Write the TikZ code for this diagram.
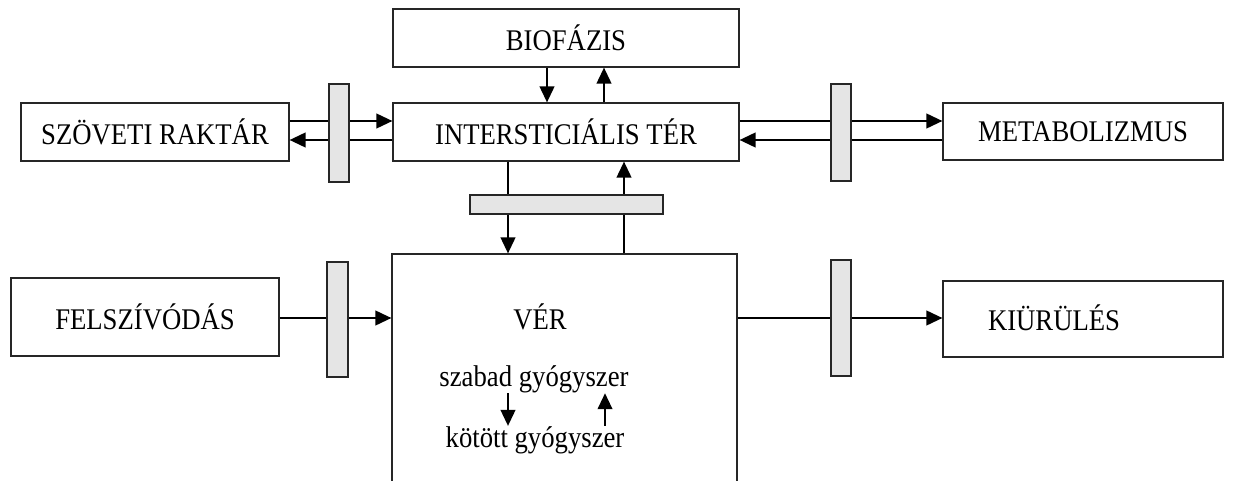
\documentclass[tikz,border=0pt]{standalone}
\usepackage{fontspec}
\setmainfont{Liberation Serif}[FakeStretch=0.89]
\usetikzlibrary{arrows.meta}
\begin{document}
\begin{tikzpicture}[x=0.75pt,y=-0.75pt,
  box/.style={draw=black!85,line width=0.9pt,fill=white,inner sep=0pt,font=\fontsize{22.5}{27}\selectfont},
  memb/.style={draw=black!85,line width=1.3pt,fill=black!10,inner sep=0pt},
  arr/.style={line width=1.5pt,-{Triangle[length=12pt,width=11pt]}},
  txt/.style={inner sep=0pt,font=\fontsize{22.5}{27}\selectfont}]
\useasboundingbox (0,0) rectangle (1237,481);
\clip (0,0) rectangle (1237,481);
% boxes
\node[box,minimum width=268*0.75pt,minimum height=58*0.75pt] (szov) at (155,132) {SZÖVETI RAKTÁR};
\node[box,minimum width=346*0.75pt,minimum height=58*0.75pt] (bio) at (566,38) {BIOFÁZIS};
\node[box,minimum width=346*0.75pt,minimum height=58*0.75pt] (inter) at (566,132) {INTERSTICIÁLIS TÉR};
\node[box,minimum width=280*0.75pt,minimum height=57*0.75pt] (metab) at (1083,131.5) {METABOLIZMUS};
\node[box,minimum width=268*0.75pt,minimum height=78*0.75pt] (felsz) at (145,317) {FELSZÍVÓDÁS};
\node[box,minimum width=280*0.75pt,minimum height=76*0.75pt] (kiur) at (1083,319) {};
\node[txt] (kiurt) at (1054,318) {KIÜRÜLÉS};
\node[box,minimum width=345*0.75pt,minimum height=236*0.75pt] (ver) at (564.5,372) {};
\node[txt] (vert) at (540,317) {VÉR};
\node[txt,anchor=base] (szabad) at (534,386.5) {szabad gyógyszer};
\node[txt,anchor=base] (kotott) at (535,447) {kötött gyógyszer};
% connectors
\draw[arr] (szov.east |- 0,121) -- (inter.west |- 0,121);
\draw[arr] (inter.west |- 0,140) -- (szov.east |- 0,140);
\draw[arr] (inter.east |- 0,121) -- (metab.west |- 0,121);
\draw[arr] (metab.west |- 0,140) -- (inter.east |- 0,140);
\draw[arr] (bio.south -| 547,0) -- (inter.north -| 547,0);
\draw[arr] (inter.north -| 604,0) -- (bio.south -| 604,0);
\draw[arr] (inter.south -| 508,0) -- (ver.north -| 508,0);
\draw[arr] (ver.north -| 624,0) -- (inter.south -| 624,0);
\draw[arr] (felsz.east |- 0,318) -- (ver.west |- 0,318);
\draw[arr] (ver.east |- 0,318) -- (kiur.west |- 0,318);
\draw[arr] (szabad.south -| 508,0) -- (kotott.north -| 508,0);
\draw[arr] (kotott.north -| 605,0) -- (szabad.south -| 605,0);
% membranes
\node[memb,minimum width=20*0.75pt,minimum height=98*0.75pt] (m1) at (339,133) {};
\node[memb,minimum width=20*0.75pt,minimum height=97*0.75pt] (m2) at (841,132.5) {};
\node[memb,minimum width=193*0.75pt,minimum height=19*0.75pt] (m3) at (566.5,204.5) {};
\node[memb,minimum width=21*0.75pt,minimum height=115*0.75pt] (m4) at (337.5,319.5) {};
\node[memb,minimum width=20*0.75pt,minimum height=116*0.75pt] (m5) at (841,318) {};
\end{tikzpicture}
\end{document}
